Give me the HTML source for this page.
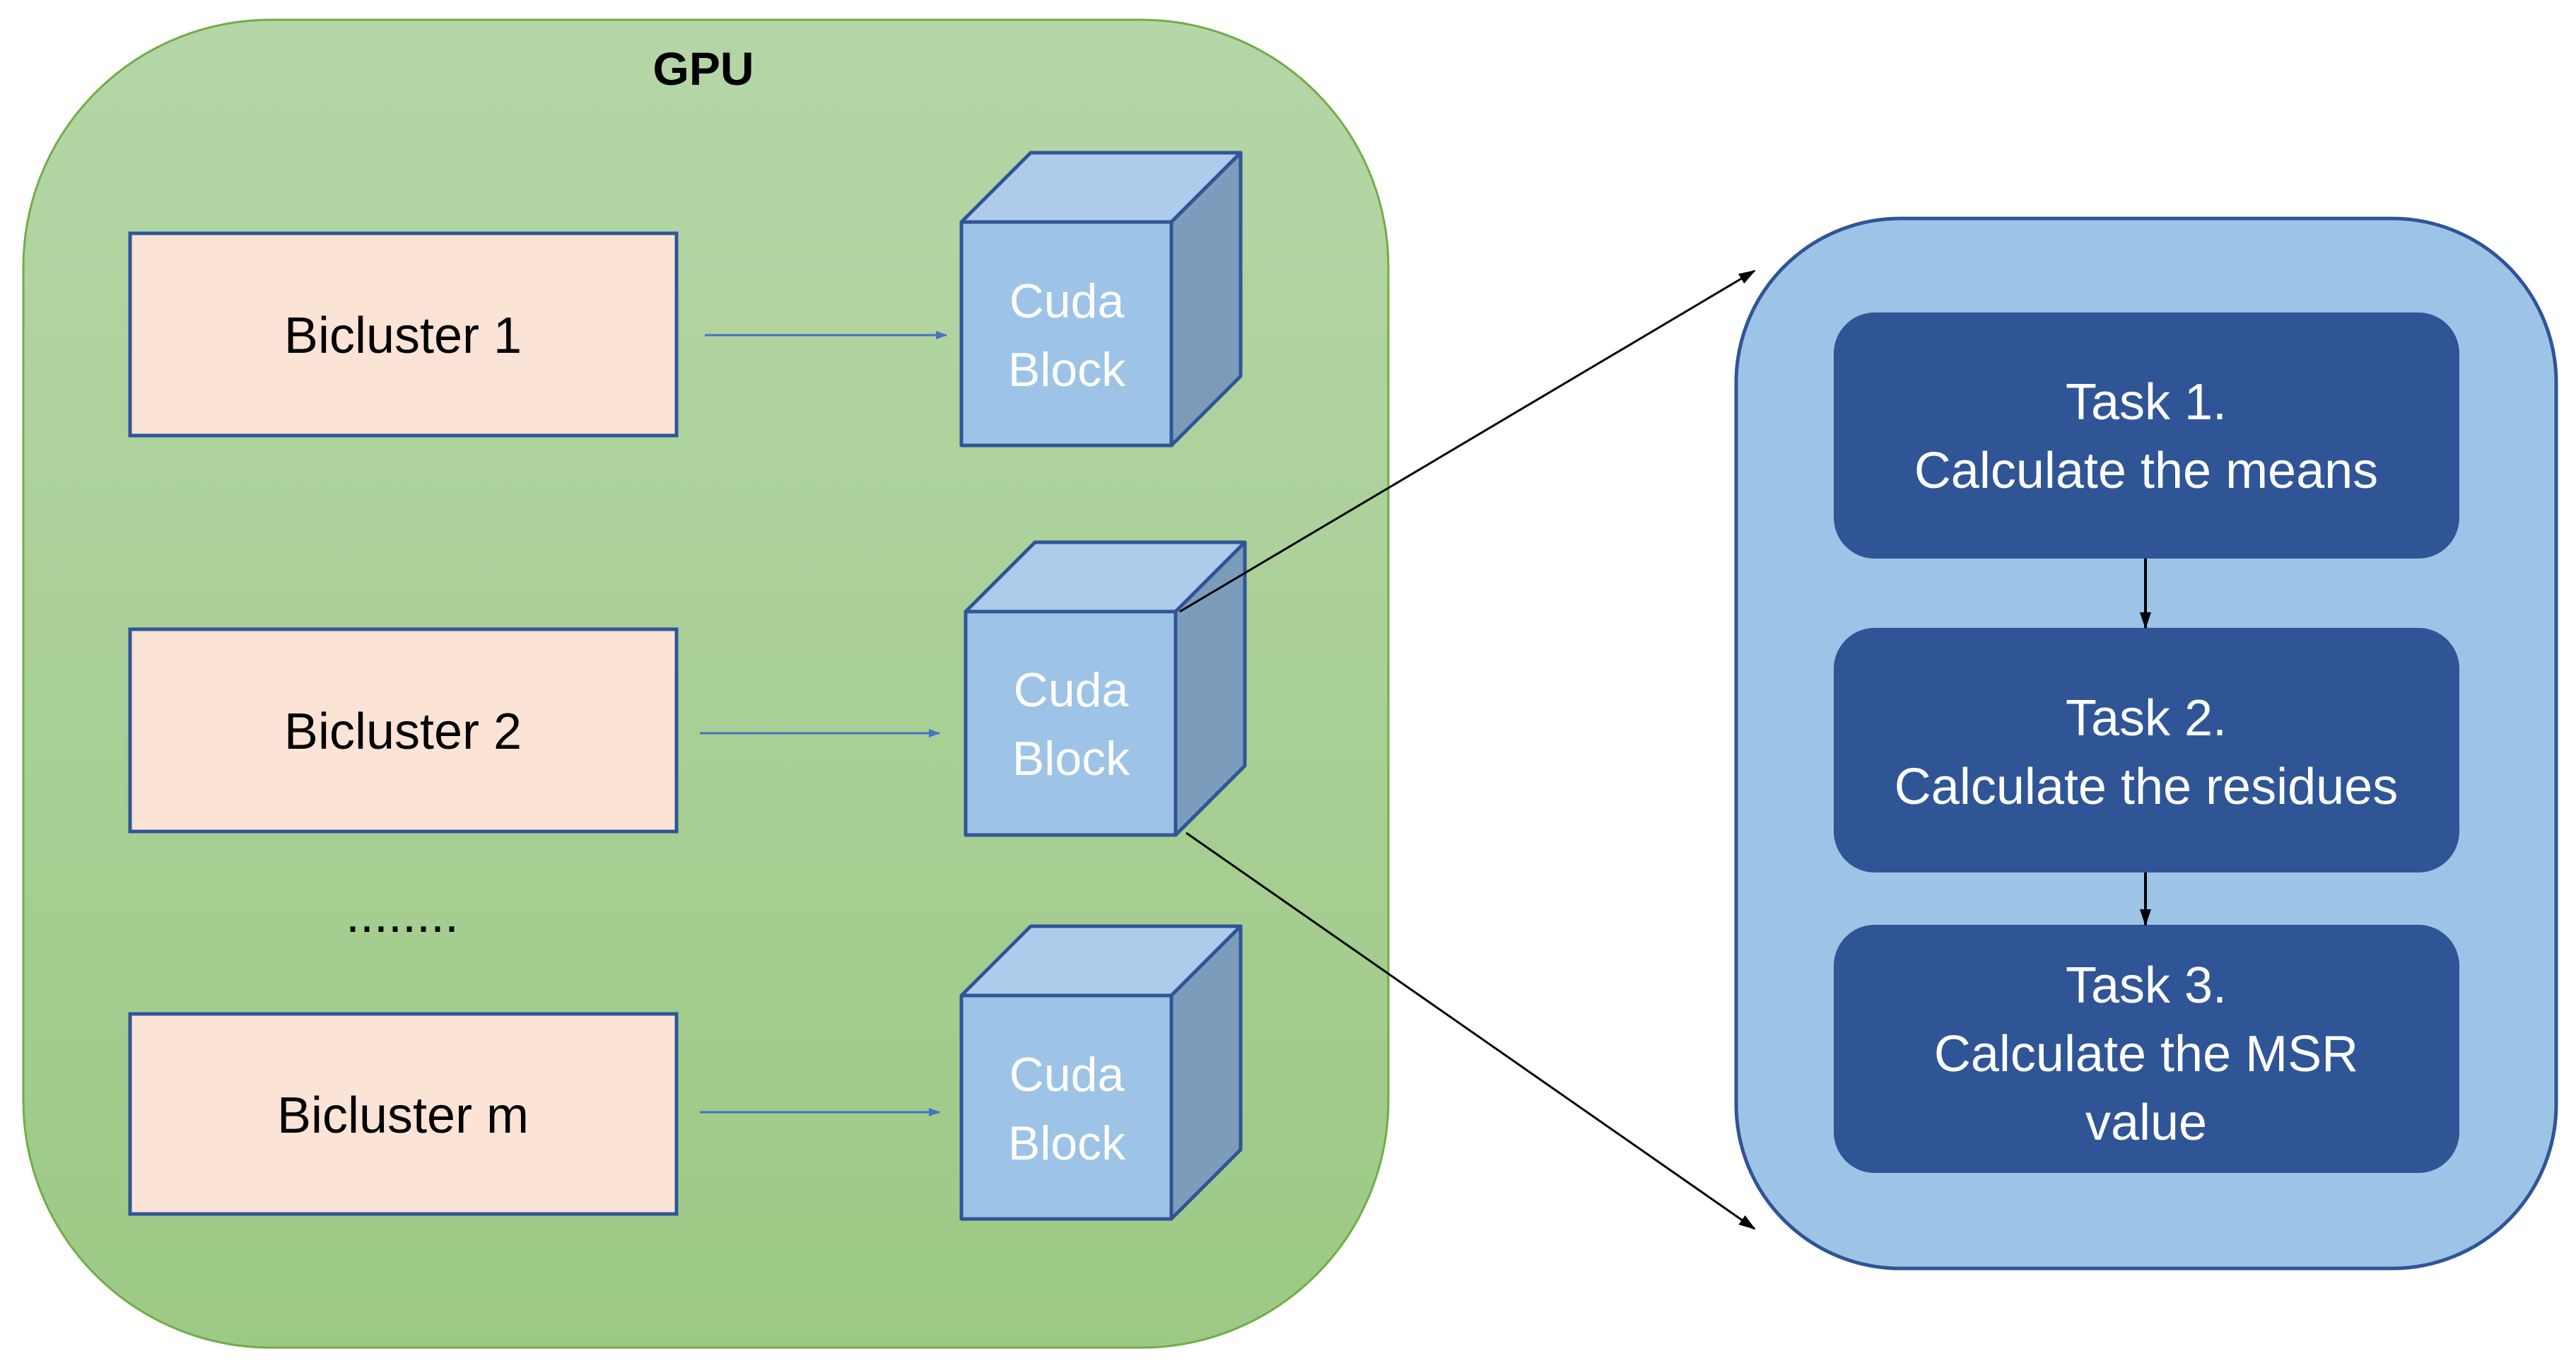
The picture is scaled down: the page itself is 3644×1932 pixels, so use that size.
<!DOCTYPE html>
<html><head><meta charset="utf-8"><style>
html,body{margin:0;padding:0;background:#fff;}
svg{display:block;}
text{font-family:"Liberation Sans",sans-serif;}
</style></head><body>
<svg width="3644" height="1932" viewBox="0 0 3644 1932" xmlns="http://www.w3.org/2000/svg">
<defs>
<linearGradient id="g" x1="0" y1="0" x2="0" y2="1">
<stop offset="0" stop-color="#b5d6a7"/><stop offset="1" stop-color="#9dc985"/>
</linearGradient>
<marker id="ab" markerWidth="16" markerHeight="16" refX="15" refY="8" orient="auto" markerUnits="userSpaceOnUse" viewBox="0 0 16 16">
<path d="M0,2 L16,8 L0,14 z" fill="#4472c4"/></marker>
<marker id="ak" markerWidth="24" markerHeight="24" refX="22" refY="12" orient="auto" markerUnits="userSpaceOnUse" viewBox="0 0 24 24">
<path d="M0,4 L24,12 L0,20 z" fill="#000"/></marker>
</defs>
<rect x="33" y="28" width="1931" height="1878" rx="350" fill="url(#g)" stroke="#70ad47" stroke-width="3"/>
<text x="995" y="120" font-size="66" font-weight="bold" text-anchor="middle">GPU</text>

<g fill="#fbe3d6" stroke="#2f5597" stroke-width="5">
<rect x="184" y="330" width="773" height="286"/>
<rect x="184" y="890" width="773" height="286"/>
<rect x="184" y="1434" width="773" height="283"/>
</g>
<g font-size="72" text-anchor="middle" fill="#000">
<text x="570" y="499">Bicluster 1</text>
<text x="570" y="1059">Bicluster 2</text>
<text x="570" y="1602">Bicluster m</text>
<text x="569" y="1318">........</text>
</g>
<g stroke="#4472c4" stroke-width="3" marker-end="url(#ab)">
<line x1="997" y1="474" x2="1339" y2="474"/>
<line x1="990" y1="1037" x2="1329" y2="1037"/>
<line x1="990" y1="1573" x2="1329" y2="1573"/>
</g>

<g stroke="#2f5597" stroke-width="5" stroke-linejoin="round">
<g transform="translate(1360,314)">
<path d="M0,0 L98,-98 L395,-98 L297,0 z" fill="#aecbeb"/>
<path d="M297,0 L395,-98 L395,218 L297,316 z" fill="#7b9cbb"/>
<rect x="0" y="0" width="297" height="316" fill="#9dc3e6"/>
</g>
<g transform="translate(1366,865)">
<path d="M0,0 L98,-98 L395,-98 L297,0 z" fill="#aecbeb"/>
<path d="M297,0 L395,-98 L395,218 L297,316 z" fill="#7b9cbb"/>
<rect x="0" y="0" width="297" height="316" fill="#9dc3e6"/>
</g>
<g transform="translate(1360,1408)">
<path d="M0,0 L98,-98 L395,-98 L297,0 z" fill="#aecbeb"/>
<path d="M297,0 L395,-98 L395,218 L297,316 z" fill="#7b9cbb"/>
<rect x="0" y="0" width="297" height="316" fill="#9dc3e6"/>
</g>
</g>
<g font-size="68" text-anchor="middle" fill="#fff">
<text x="1509" y="449">Cuda</text><text x="1509" y="546">Block</text>
<text x="1515" y="999">Cuda</text><text x="1515" y="1096">Block</text>
<text x="1509" y="1543">Cuda</text><text x="1509" y="1640">Block</text>
</g>

<g stroke="#000" stroke-width="3" marker-end="url(#ak)">
<line x1="1669" y1="865" x2="2482" y2="383"/>
<line x1="1678" y1="1178" x2="2482" y2="1738"/>
</g>

<rect x="2456" y="309" width="1160" height="1485" rx="232" fill="#9dc3e6" stroke="#2f5597" stroke-width="5"/>
<g fill="#2f5597">
<rect x="2594" y="442" width="885" height="348" rx="58"/>
<rect x="2594" y="888" width="885" height="346" rx="58"/>
<rect x="2594" y="1308" width="885" height="351" rx="58"/>
</g>
<g stroke="#000" stroke-width="4" marker-end="url(#ak)">
<line x1="3035" y1="790" x2="3035" y2="888"/>
<line x1="3035" y1="1234" x2="3035" y2="1308"/>
</g>
<g font-size="72" text-anchor="middle" fill="#fff">
<text x="3036" y="593">Task 1.</text><text x="3036" y="690">Calculate the means</text>
<text x="3036" y="1040">Task 2.</text><text x="3036" y="1137">Calculate the residues</text>
<text x="3036" y="1418">Task 3.</text><text x="3036" y="1515">Calculate the MSR</text><text x="3036" y="1612">value</text>
</g>
</svg>
</body></html>
